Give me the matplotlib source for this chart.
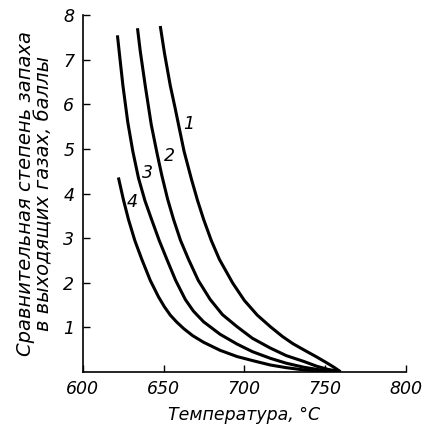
import matplotlib
matplotlib.use("Agg")
import matplotlib.pyplot as plt

# Curve data (temperature °C, odor score)
t1 = [648.0, 650.6, 654.2, 657.0, 659.9, 662.7, 667.3, 671.0, 674.8, 679.5,
      684.6, 692.8, 700.0, 708.0, 716.1, 723.6, 730.0, 736.8, 744.3, 750.0,
      755.0, 759.5]
s1 = [7.76, 7.15, 6.42, 5.95, 5.44, 4.95, 4.32, 3.85, 3.42, 2.95,
      2.52, 1.99, 1.60, 1.27, 1.01, 0.79, 0.63, 0.49, 0.34, 0.22,
      0.11, 0.0]

t2 = [633.9, 635.6, 638.7, 642.4, 645.9, 649.0, 652.5, 656.2, 660.5, 665.5,
      671.5, 678.9, 686.5, 695.5, 705.0, 716.1, 726.0, 736.8, 745.0, 752.0,
      759.5]
s2 = [7.71, 7.20, 6.42, 5.55, 4.92, 4.40, 3.88, 3.42, 2.95, 2.52,
      2.05, 1.62, 1.28, 1.01, 0.75, 0.53, 0.36, 0.23, 0.12, 0.05,
      0.0]

t3 = [621.5, 623.2, 624.9, 627.9, 631.0, 634.5, 638.5, 642.8, 647.3, 652.1,
      657.5, 663.5, 668.5, 674.8, 685.0, 695.5, 705.0, 716.1, 726.0, 736.8,
      747.0, 759.5]
s3 = [7.55, 6.98, 6.42, 5.60, 4.95, 4.35, 3.84, 3.40, 2.95, 2.52,
      2.05, 1.62, 1.36, 1.12, 0.84, 0.62, 0.45, 0.30, 0.19, 0.10,
      0.04, 0.0]

t4 = [622.1, 625.2, 628.3, 632.3, 636.6, 641.8, 646.9, 650.5, 654.2, 658.0,
      662.4, 668.0, 674.8, 685.0, 695.5, 705.0, 716.1, 726.0, 736.8, 747.0,
      759.5]
s4 = [4.36, 3.86, 3.42, 2.94, 2.52, 2.05, 1.68, 1.46, 1.27, 1.12,
      0.97, 0.81, 0.66, 0.48, 0.34, 0.25, 0.15, 0.09, 0.04, 0.015,
      0.0]

curve_labels = ["1", "2", "3", "4"]
label_pos = [(665.5, 5.55), (653.5, 4.85), (640.0, 4.45), (630.5, 3.82)]

xticks = [600, 650, 700, 750, 800]
yticks = [1, 2, 3, 4, 5, 6, 7, 8]

fig = plt.figure(figsize=(4.24, 4.30), dpi=100)
ax = fig.add_axes([0.195, 0.1356, 0.7625, 0.8288])

for t, s in zip([t1, t2, t3, t4], [s1, s2, s3, s4]):
    ax.plot(t, s, color="black", lw=2.2, solid_capstyle="butt",
            solid_joinstyle="round")

for lab, (x, y) in zip(curve_labels, label_pos):
    ax.text(x, y, lab, fontsize=12.5, style="italic", ha="center", va="center")

ax.set_xlim(600, 800)
ax.set_ylim(0, 8)
ax.spines["top"].set_visible(False)
ax.spines["right"].set_visible(False)
for sp in ["left", "bottom"]:
    ax.spines[sp].set_linewidth(1.2)

ax.set_xticks(xticks)
ax.set_yticks(yticks)
ax.set_xticklabels([str(v) for v in xticks], fontsize=12.5, style="italic")
ax.set_yticklabels([str(v) for v in yticks], fontsize=12.5, style="italic")
ax.tick_params(direction="in", length=5, width=1.0, pad=6)

ax.set_xlabel("Температура, °С", fontsize=12.5, style="italic", labelpad=6)
ax.set_ylabel("Сравнительная степень запаха\nв выходящих газах, баллы",
              fontsize=14, style="italic", labelpad=7, linespacing=1.0)

fig.savefig("out.png", dpi=100)
